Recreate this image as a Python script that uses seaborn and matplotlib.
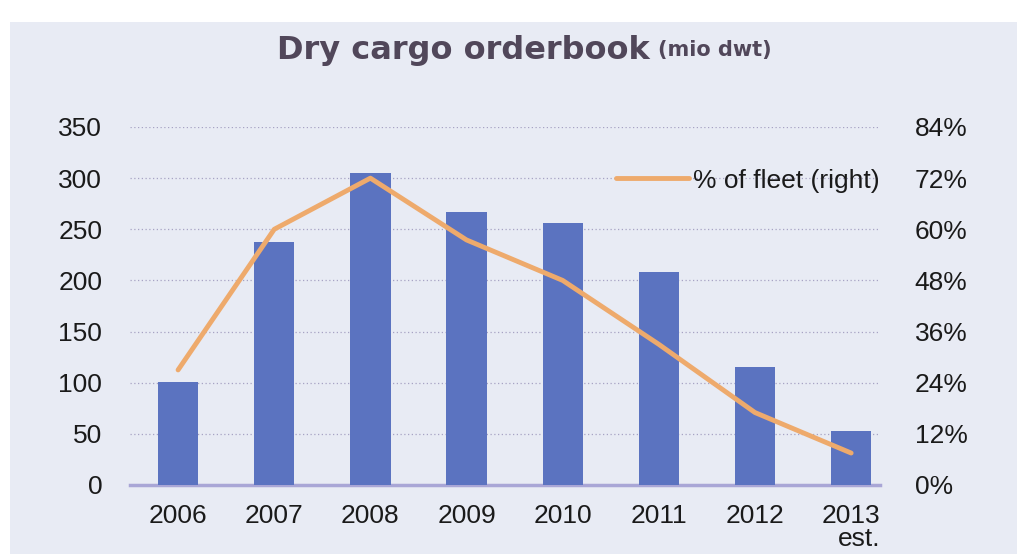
import pandas as pd
import seaborn as sns
import matplotlib.pyplot as plt
from matplotlib.patches import Rectangle

# data
years = ["2006", "2007", "2008", "2009", "2010", "2011", "2012", "2013"]
year_labels = ["2006", "2007", "2008", "2009", "2010", "2011", "2012", "2013\nest."]
orderbook = [101, 238, 305, 267, 256, 208, 115, 53]        # mio dwt, left axis
pct_fleet = [27, 60, 72, 57.5, 48, 33, 17, 7.5]             # % of fleet, right axis
left_ticks = [0, 50, 100, 150, 200, 250, 300, 350]
right_ticks = [0, 12, 24, 36, 48, 60, 72, 84]

bg = "#e8ebf4"
bar_col = "#5b73c0"
line_col = "#eeaa6c"
grid_col = "#a7a3c4"
txt_col = "#1a1a1a"

sns.set_style("white")
plt.rcParams["font.family"] = ["Liberation Sans", "DejaVu Sans"]

df = pd.DataFrame({"year": years, "orderbook": orderbook, "pct": pct_fleet})

fig = plt.figure(figsize=(10.17, 5.54), dpi=100, facecolor="white")
# panel background (white strip at top and left as in the scan)
fig.patches.append(Rectangle((10 / 1017, 0), 1, 1 - 22 / 554, transform=fig.transFigure,
                             facecolor=bg, edgecolor="none", zorder=-5))

ax = fig.add_axes([130 / 1017, 1 - 485 / 554, 750 / 1017, (485 - 127) / 554])
ax.set_facecolor("none")
sns.barplot(data=df, x="year", y="orderbook", color=bar_col, width=0.42,
            saturation=1, linewidth=0, ax=ax, zorder=3)
ax.set_ylim(0, 350)
ax.set_xlim(-0.5, 7.3)
ax.set_yticks(left_ticks)
ax.set_xticks(range(len(years)))
ax.set_xticklabels(year_labels, multialignment="right", linespacing=0.9)
ax.set_xlabel("")
ax.set_ylabel("")
ax.tick_params(axis="y", length=0, pad=20, labelsize=19, labelcolor=txt_col)
ax.tick_params(axis="x", length=0, pad=14, labelsize=19, labelcolor=txt_col)
ax.yaxis.grid(True, linestyle=(0, (1, 2)), color=grid_col, linewidth=0.9, zorder=0)
ax.set_axisbelow(True)
for s in ["top", "right", "left"]:
    ax.spines[s].set_visible(False)
ax.spines["bottom"].set_color("#a9a6d6")
ax.spines["bottom"].set_linewidth(2.5)

ax2 = ax.twinx()
sns.lineplot(x=list(range(len(years))), y=pct_fleet, color=line_col, linewidth=3.5,
             ax=ax2, label="% of fleet (right)", zorder=5)
ax2.set_ylim(0, 84)
ax2.set_yticks(right_ticks)
ax2.set_yticklabels([f"{v}%" for v in right_ticks])
ax2.tick_params(axis="y", length=0, pad=25, labelsize=19, labelcolor=txt_col)
for s in ["top", "right", "left", "bottom"]:
    ax2.spines[s].set_visible(False)
leg = ax2.legend(loc="center right", bbox_to_anchor=(1.0, 0.85), frameon=False,
                 fontsize=19, handlelength=2.8, handletextpad=0.15,
                 borderpad=0, borderaxespad=0)
for txt in leg.get_texts():
    txt.set_color(txt_col)

fig.text(650 / 1017, 1 - 50 / 554, "Dry cargo orderbook", ha="right", va="center",
         fontsize=23, fontweight="bold", color="#51475a", family=["DejaVu Sans"])
fig.text(658 / 1017, 1 - 50 / 554, "(mio dwt)", ha="left", va="center",
         fontsize=15, fontweight="bold", color="#51475a", family=["DejaVu Sans"])

fig.savefig("out.png", dpi=100, facecolor="white")
